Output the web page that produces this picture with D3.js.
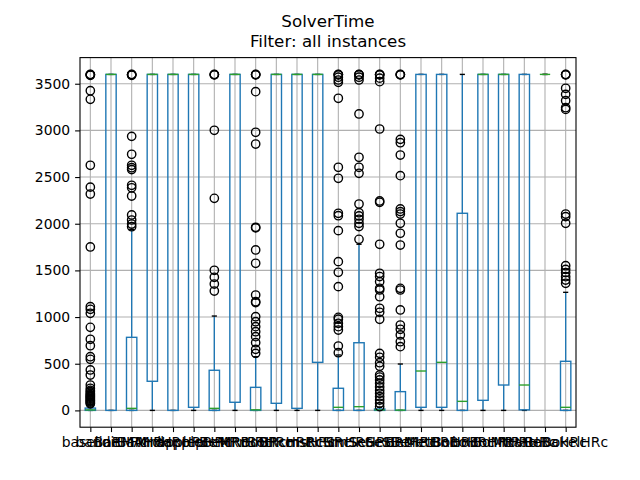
<!DOCTYPE html>
<html>
<head>
<meta charset="utf-8">
<script src="https://cdn.jsdelivr.net/npm/d3@7"></script>
<style>
  html, body { margin: 0; padding: 0; background: #fff; }
  svg { display: block; }
</style>
</head>
<body>
<svg id="chart" width="640" height="480"></svg>
<script>
const titleLines = ["SolverTime", "Filter: all instances"];
const categories = ["baseline","banditHRc","BaRMAHRc","BaMrdHRc","MrdapHRc","applepHRc","pleBeHRc","BeMRrHRc",
  "MRrBoHRc","BoBRcHRc","BRcmsHRc","msRcHRc","RcSmHRc","SmSeHRc","SeSeHRc","SeSBeHRc","BeMetHRc","MetBoHRc",
  "BoBoHRc","boBoHRc","BoMtHRc","MtRaHRc","RaHeBaHRc","BaBokelHRc"];
const yTicks = [0, 500, 1000, 1500, 2000, 2500, 3000, 3500];

const whiskerLow  = [0,0,0,0,0,0,0,0,0,0,0,0,0,0,0,0,0,0,0,0,0,0,3600,0];
const q1          = [0,0,0,312,0,33,0,87,0,76,22,515,0,0,0,0,33,33,0,108,272,6,3600,0];
const medians     = [5,3600,22,3600,3600,3600,22,3600,6,3600,3600,3600,33,40,5,3,422,515,97,3600,3600,272,3600,33];
const q3          = [25,3600,783,3600,3600,3600,430,3600,247,3600,3600,3600,237,725,15,201,3600,3600,2112,3600,3600,3600,3600,526];
const whiskerHigh = [60,3600,1940,3600,3600,3600,1011,3600,575,3600,3600,3600,594,1780,35,497,3600,3600,3600,3600,3600,3600,3600,1265];

const fliers = [
  [3600,3598,3595,3590,3425,3333,2626,2392,2318,1751,1111,1083,1040,890,762,693,575,547,433,379,272,237,215,200,185,170,160,150,140,130,120,110,100,90,80,70],
  [],
  [3600,3598,3595,3590,2936,2744,2626,2600,2580,2412,2385,2297,2094,2040,1997,1968],
  [],
  [],
  [],
  [3600,3598,3595,3001,2272,1501,1426,1354,1279],
  [],
  [3600,3598,3595,3415,2980,2854,1962,1955,1719,1576,1236,1165,1155,1004,950,897,843,790,725,654,611],
  [],
  [],
  [],
  [3600,3598,3595,3570,3540,3515,3344,2605,2487,2112,2086,1926,1594,1480,1326,997,977,933,897,861,690,618],
  [3600,3598,3595,3570,3540,3176,2712,2605,2540,2211,2118,2083,2048,2005,1970,1833],
  [3600,3598,3595,3560,3522,3015,2244,2230,1780,1469,1434,1379,1308,1290,1218,1094,1051,976,611,569,511,472,379,357,326,290,251,215,183,147,111,76,40],
  [3600,3598,3595,2904,2868,2736,2515,2158,2130,2104,2005,1898,1772,1308,1290,1076,915,869,808,736,683],
  [],
  [],
  [],
  [],
  [],
  [],
  [],
  [3600,3598,3595,3451,3386,3318,3243,3225,2104,2076,2005,1550,1511,1476,1433,1397,1362]
];

const plotL = 80, plotR = 576, plotT = 57.6, plotB = 427.2;
const svg = d3.select("#chart");
const font = "'DejaVu Sans', sans-serif";

const x = d3.scaleLinear().domain([0.5, categories.length + 0.5]).range([plotL, plotR]);
const y = d3.scaleLinear().domain([-180, 3780]).range([plotB, plotT]);

const BLUE = "#1f77b4", GREEN = "#2ca02c", GRID = "#b0b0b0";
const lw = 1.39;

// grid
const grid = svg.append("g");
grid.selectAll("line.gy").data(yTicks).join("line")
  .attr("x1", plotL).attr("x2", plotR)
  .attr("y1", d => y(d)).attr("y2", d => y(d))
  .attr("stroke", GRID).attr("stroke-width", 1.1);
grid.selectAll("line.gx").data(categories).join("line")
  .attr("x1", (d, i) => x(i + 1)).attr("x2", (d, i) => x(i + 1))
  .attr("y1", plotT).attr("y2", plotB)
  .attr("stroke", GRID).attr("stroke-width", 1.1);

// boxes
const boxW = x(1.25) - x(1);   // half box width in px
const capW = x(1.125) - x(1);  // half cap width
const g = svg.append("g").attr("fill", "none");
categories.forEach((c, i) => {
  const cx = x(i + 1);
  g.append("line").attr("x1", cx).attr("x2", cx).attr("y1", y(q1[i])).attr("y2", y(whiskerLow[i]))
    .attr("stroke", BLUE).attr("stroke-width", lw);
  g.append("line").attr("x1", cx).attr("x2", cx).attr("y1", y(q3[i])).attr("y2", y(whiskerHigh[i]))
    .attr("stroke", BLUE).attr("stroke-width", lw);
  [whiskerLow[i], whiskerHigh[i]].forEach(v => {
    g.append("line").attr("x1", cx - capW).attr("x2", cx + capW).attr("y1", y(v)).attr("y2", y(v))
      .attr("stroke", "#000").attr("stroke-width", lw);
  });
  g.append("rect").attr("x", cx - boxW).attr("width", 2 * boxW)
    .attr("y", y(q3[i])).attr("height", Math.max(0, y(q1[i]) - y(q3[i])))
    .attr("stroke", BLUE).attr("stroke-width", lw);
  g.append("line").attr("x1", cx - boxW).attr("x2", cx + boxW)
    .attr("y1", y(medians[i])).attr("y2", y(medians[i]))
    .attr("stroke", GREEN).attr("stroke-width", lw);
  g.selectAll(null).data(fliers[i]).join("circle")
    .attr("cx", cx).attr("cy", d => y(d)).attr("r", 4.17)
    .attr("stroke", "#000").attr("stroke-width", lw).attr("fill", "none");
});

// spines
svg.append("rect").attr("x", plotL).attr("y", plotT).attr("width", plotR - plotL).attr("height", plotB - plotT)
  .attr("fill", "none").attr("stroke", "#000").attr("stroke-width", 1.1);

// y axis
const yAxis = svg.append("g").attr("transform", `translate(${plotL},0)`)
  .call(d3.axisLeft(y).tickValues(yTicks).tickSize(4.9).tickPadding(4.9).tickFormat(d3.format("d")));
yAxis.select(".domain").remove();
yAxis.selectAll("line").attr("stroke", "#000").attr("stroke-width", 1.1);
yAxis.selectAll("text").attr("font-family", font).attr("font-size", 13.9).attr("fill", "#000");

// x axis
const xAxis = svg.append("g").attr("transform", `translate(0,${plotB})`)
  .call(d3.axisBottom(x).tickValues(d3.range(1, categories.length + 1)).tickSize(4.9).tickPadding(4.9)
    .tickFormat(d => categories[d - 1]));
xAxis.select(".domain").remove();
xAxis.selectAll("line").attr("stroke", "#000").attr("stroke-width", 1.1);
xAxis.selectAll("text").attr("font-family", font).attr("font-size", 13.9).attr("fill", "#000");

// title
svg.append("text").attr("text-anchor", "middle")
  .attr("font-family", font).attr("font-size", 16.7).attr("fill", "#000")
  .selectAll("tspan").data(titleLines).join("tspan")
  .attr("x", (plotL + plotR) / 2).attr("y", (d, i) => 27.3 + i * 19.5).text(d => d);
</script>
</body>
</html>
